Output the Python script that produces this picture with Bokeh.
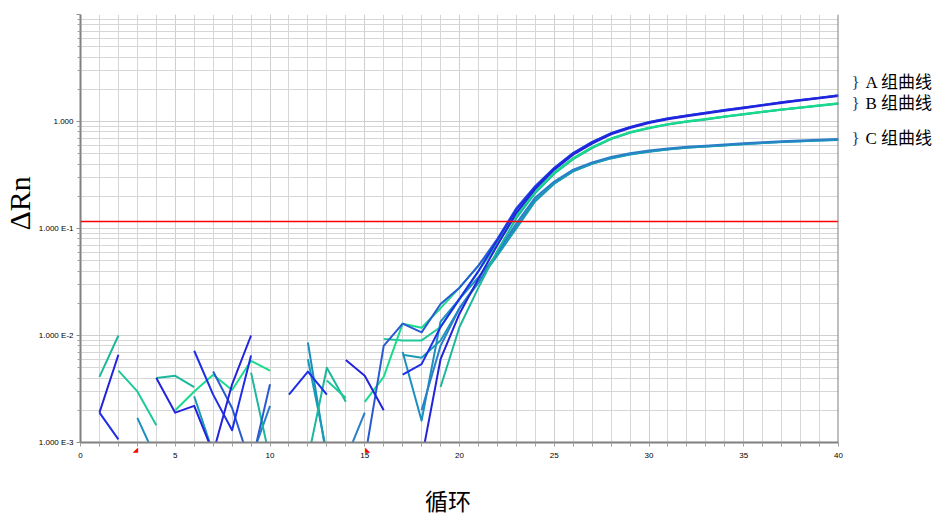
import math
from bokeh.plotting import figure
from bokeh.models import Range1d, FixedTicker, Span, Title, LogAxis, LinearAxis
from bokeh.embed import file_html
from bokeh.resources import INLINE

nan = float("nan")
cycles = list(range(1, 41))

# Group A (blue)
a1 = [0.0019, 0.0066, nan, 0.0040, 0.0019, 0.0022, 0.0008, 0.0035, 0.010, nan,
      nan, nan, nan, 0.0059, 0.0042, 0.0020, nan, 0.0007, 0.006, 0.016,
      0.034, 0.07, 0.14, 0.235, 0.355, 0.49, 0.62, 0.76, 0.87, 0.97,
      1.05, 1.12, 1.19, 1.26, 1.33, 1.41, 1.49, 1.57, 1.65, 1.73]
a2 = [0.0019, 0.00107, nan, nan, nan, 0.0072, 0.0028, 0.0013, 0.0065, nan,
      0.0028, 0.0046, 0.0028, nan, nan, nan, 0.0043, 0.0054, 0.012, 0.022,
      0.040, 0.078, 0.15, 0.245, 0.365, 0.505, 0.64, 0.775, 0.885, 0.985,
      1.065, 1.14, 1.21, 1.28, 1.35, 1.43, 1.51, 1.59, 1.67, 1.76]
a3 = [nan, nan, nan, nan, nan, nan, 0.0046, 0.0021, 0.0006, 0.0035,
      nan, nan, nan, nan, 0.0007, 0.0080, 0.0129, 0.0107, 0.0197, 0.028,
      0.045, 0.08, 0.155, 0.25, 0.37, 0.51, 0.645, 0.78, 0.89, 0.99,
      1.07, 1.14, 1.21, 1.28, 1.35, 1.43, 1.51, 1.59, 1.67, 1.75]
# Group B (green)
b1 = [0.0041, 0.0100, nan, 0.0040, 0.0042, 0.0033, nan, nan, 0.0045, 0.0007,
      nan, 0.0007, 0.0050, 0.0024, nan, nan, nan, nan, 0.0033, 0.012,
      0.028, 0.062, 0.125, 0.215, 0.325, 0.445, 0.565, 0.685, 0.785, 0.865,
      0.935, 0.995, 1.045, 1.105, 1.165, 1.225, 1.285, 1.345, 1.405, 1.465]
b2 = [nan, 0.0047, 0.0030, 0.00145, nan, nan, nan, nan, nan, nan,
      nan, nan, 0.0038, 0.0026, nan, 0.0093, 0.0090, 0.0090, 0.012, 0.022,
      0.040, 0.072, 0.133, 0.222, 0.332, 0.452, 0.572, 0.692, 0.792, 0.872,
      0.942, 1.002, 1.052, 1.112, 1.172, 1.232, 1.292, 1.352, 1.412, 1.475]
b3 = [nan, nan, nan, nan, 0.0020, 0.0030, 0.0043, 0.0031, 0.0058, 0.0047,
      nan, nan, nan, nan, 0.0024, 0.0041, 0.0129, 0.0118, 0.018, 0.028,
      0.045, 0.075, 0.135, 0.225, 0.335, 0.455, 0.575, 0.695, 0.795, 0.875,
      0.945, 1.005, 1.055, 1.115, 1.175, 1.235, 1.295, 1.355, 1.415, 1.48]
# Group C (teal)
c1 = [nan, nan, 0.0017, 0.0007, nan, nan, nan, nan, nan, nan,
      nan, 0.0086, 0.0007, nan, nan, nan, 0.0070, 0.0016, 0.0135, 0.022,
      0.035, 0.058, 0.105, 0.185, 0.265, 0.345, 0.405, 0.455, 0.495, 0.525,
      0.55, 0.57, 0.585, 0.60, 0.615, 0.63, 0.645, 0.655, 0.665, 0.675]
c2 = [nan, nan, nan, nan, nan, 0.0027, 0.0008, nan, nan, nan,
      nan, 0.0060, 0.0008, nan, nan, nan, 0.0066, 0.0062, 0.0090, 0.018,
      0.032, 0.056, 0.10, 0.18, 0.262, 0.342, 0.402, 0.452, 0.492, 0.522,
      0.548, 0.568, 0.583, 0.598, 0.613, 0.628, 0.643, 0.653, 0.663, 0.672]
c3 = [nan, nan, nan, nan, nan, nan, nan, nan, 0.0007, 0.0022,
      nan, nan, nan, 0.0007, 0.0019, nan, nan, 0.0020, 0.008, 0.018,
      0.031, 0.06, 0.112, 0.195, 0.275, 0.355, 0.415, 0.465, 0.505, 0.535,
      0.56, 0.58, 0.595, 0.61, 0.625, 0.64, 0.655, 0.665, 0.675, 0.685]

series = [
    (c1, "#1b8fc0"), (c2, "#1a9bb5"), (c3, "#2a7fc8"),
    (b1, "#1cb89c"), (b2, "#1fc79a"), (b3, "#18dc8c"),
    (a3, "#2a5ad2"), (a2, "#1e2ee8"), (a1, "#2323dc"),
]

threshold = 0.116
y_major = [0.001, 0.01, 0.1, 1, 10]
y_labels = {0.001: "1.000 E-3", 0.01: "1.000 E-2", 0.1: "1.000 E-1", 1: "1.000", 10: ""}
x_major = [0, 5, 10, 15, 20, 25, 30, 35, 40]
baseline_marks = {2.9: "◢", 15.15: "◣"}
group_pos = [2.3, 1.47, 0.69]
group_names = {2.3: "A 组曲线", 1.47: "B 组曲线", 0.69: "C 组曲线"}
group_braces = {2.3: "}", 1.47: "}", 0.69: "}"}

p = figure(width=940, height=519, y_axis_type="log",
           x_range=Range1d(0, 40), y_range=Range1d(0.001, 10),
           output_backend="svg", toolbar_location=None,
           min_border_left=80, min_border_right=102, min_border_top=14, min_border_bottom=77)
p.outline_line_color = None
p.background_fill_color = "white"

minor_y = []
for e in range(-3, 1):
    for k in range(2, 10):
        minor_y.append(k * 10 ** e)

# y axis
ya = p.yaxis[0]
ya.ticker = FixedTicker(ticks=y_major, minor_ticks=minor_y)
ya.major_label_overrides = y_labels
ya.axis_line_color = "#808080"
ya.axis_line_width = 2
ya.major_tick_line_color = "#909090"
ya.minor_tick_line_color = "#a0a0a0"
ya.major_tick_in = 0
ya.minor_tick_in = 0
ya.major_tick_out = 4
ya.minor_tick_out = 3
ya.major_label_text_font = "Liberation Sans"
ya.major_label_text_font_size = "8px"
ya.major_label_text_color = "#000000"
ya.major_label_standoff = 3

# x axis: numbers and title (line and ticks come from the marker axis next to the frame)
xa = p.xaxis[0]
xa.ticker = FixedTicker(ticks=x_major, minor_ticks=list(range(0, 41)))
xa.axis_line_color = None
xa.major_tick_line_color = None
xa.minor_tick_line_color = None
xa.major_tick_out = 0
xa.minor_tick_out = 0
xa.major_label_standoff = -4
xa.major_label_text_font = "Liberation Sans"
xa.major_label_text_font_size = "8px"
xa.major_label_text_color = "#000000"
xa.axis_label = "循环\u3000"
xa.axis_label_standoff = 22
xa.axis_label_text_font = "Noto Sans CJK SC"
xa.axis_label_text_font_size = "23px"
xa.axis_label_text_font_style = "normal"
xa.axis_label_text_line_height = 1.0
xa.axis_label_text_color = "#000000"

tri = LinearAxis(ticker=FixedTicker(ticks=list(baseline_marks.keys()), minor_ticks=list(range(0, 41))),
                 major_label_overrides=baseline_marks)
tri.axis_line_color = "#808080"
tri.axis_line_width = 2
tri.major_tick_line_color = None
tri.major_tick_out = 0
tri.major_tick_in = 0
tri.minor_tick_line_color = "#a0a0a0"
tri.minor_tick_out = 4
tri.minor_tick_in = 0
tri.major_label_standoff = -1
tri.major_label_text_font = "DejaVu Sans"
tri.major_label_text_font_size = "7px"
tri.major_label_text_color = "#ff0000"
p.below = [tri, xa]

for g in (p.xgrid, p.ygrid):
    g.grid_line_color = "#cfcfcf"
    g.grid_line_width = 1
    g.minor_grid_line_color = "#d6d6d6"
    g.minor_grid_line_width = 1

for ys, col in series:
    p.line(cycles, ys, line_color=col, line_width=2, line_join="round")

p.add_layout(Span(location=threshold, dimension="width", line_color="#ff0000", line_width=1.5))
p.add_layout(Span(location=40, dimension="height", line_color="#808080", line_width=2))

# right-hand group annotations, drawn as label-only axes
brace_axis = LogAxis(ticker=FixedTicker(ticks=group_pos, minor_ticks=[]),
                     major_label_overrides=group_braces)
brace_axis.axis_line_color = None
brace_axis.major_tick_line_color = None
brace_axis.minor_tick_line_color = None
brace_axis.major_tick_out = 0
brace_axis.minor_tick_out = 0
brace_axis.major_label_standoff = 13
brace_axis.major_label_text_font = "Liberation Serif"
brace_axis.major_label_text_font_size = "17px"
brace_axis.major_label_text_color = "#1f3a7a"
p.add_layout(brace_axis, "right")

name_axis = LogAxis(ticker=FixedTicker(ticks=group_pos, minor_ticks=[]),
                    major_label_overrides=group_names)
name_axis.axis_line_color = None
name_axis.major_tick_line_color = None
name_axis.minor_tick_line_color = None
name_axis.major_tick_out = 0
name_axis.minor_tick_out = 0
name_axis.major_label_standoff = 3
name_axis.major_label_text_font = "Liberation Serif, Noto Sans CJK SC"
name_axis.major_label_text_font_size = "17px"
name_axis.major_label_text_color = "#000000"
p.add_layout(name_axis, "right")

# y axis title
p.add_layout(Title(text="ΔRn", align="left", offset=212, standoff=0,
                   text_font="Liberation Serif", text_font_size="30px",
                   text_font_style="normal", text_color="#000000"), "left")

open("out.html", "w").write(file_html(p, INLINE))
